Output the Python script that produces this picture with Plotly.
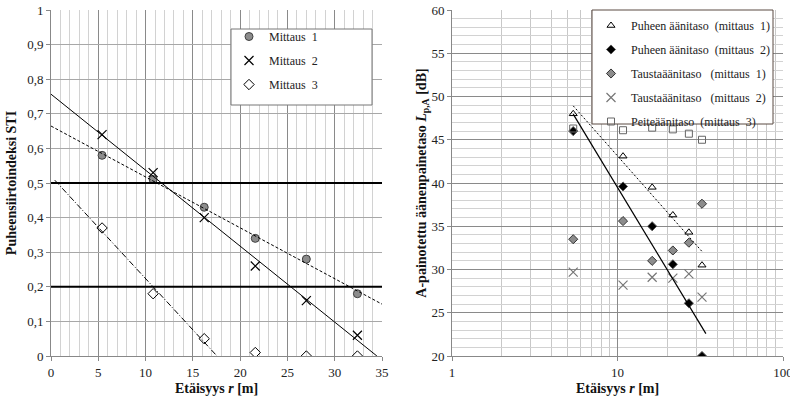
import numpy as np
import plotly.graph_objects as go

# ---------------- data ----------------
distance = [5.4, 10.8, 16.2, 21.6, 27.0, 32.4]

sti_mittaus1 = [0.58, 0.51, 0.43, 0.34, 0.28, 0.18]
sti_mittaus2 = [0.64, 0.53, 0.40, 0.26, 0.16, 0.06]
sti_mittaus3 = [0.37, 0.18, 0.05, 0.01, 0.00, 0.00]
sti_limits = [0.5, 0.2]

puhe_m1 = [48.0, 43.1, 39.5, 36.3, 34.3, 30.5]
puhe_m2 = [46.0, 39.6, 35.0, 30.6, 26.1, 20.0]
tausta_m1 = [33.5, 35.6, 31.0, 32.2, 33.1, 37.6]
tausta_m2 = [29.7, 28.2, 29.1, 29.0, 29.5, 26.8]
peite_m3 = [46.3, 46.1, 46.4, 46.2, 45.7, 45.0]

left_names = ["Mittaus  1", "Mittaus  2", "Mittaus  3"]
right_names = ["Puheen äänitaso  (mittaus  1)", "Puheen äänitaso  (mittaus  2)",
               "Taustaäänitaso   (mittaus  1)", "Taustaäänitaso   (mittaus  2)",
               "Peiteäänitaso  (mittaus  3)"]

FONT = "Liberation Serif"
nb = lambda s: s.replace(" ", "\u00a0")

fig = go.Figure()

# ---------------- left chart ----------------
fig.add_trace(go.Scatter(x=distance, y=sti_mittaus1, mode="markers", name=nb(left_names[0]),
                         marker=dict(symbol="circle", size=8, color="#8c8c8c", line=dict(color="#404040", width=1)),
                         xaxis="x", yaxis="y", legend="legend", legendgroup="a"))
fig.add_trace(go.Scatter(x=distance, y=sti_mittaus2, mode="markers", name=nb(left_names[1]),
                         marker=dict(symbol="x-thin-open", size=9, color="#000", line=dict(color="#000", width=1.2)),
                         xaxis="x", yaxis="y", legend="legend", legendgroup="b"))
fig.add_trace(go.Scatter(x=distance, y=sti_mittaus3, mode="markers", name=nb(left_names[2]),
                         marker=dict(symbol="diamond-open", size=8, color="#000", line=dict(color="#000", width=1)),
                         xaxis="x", yaxis="y", legend="legend", legendgroup="c"))

# linear trendlines
d = np.array(distance)
k1, b1 = np.polyfit(d, sti_mittaus1, 1)
xs1 = np.array([0, 35])
fig.add_trace(go.Scatter(x=xs1, y=k1 * xs1 + b1, mode="lines", showlegend=False,
                         line=dict(color="#000", width=1, dash="3px,2px"), xaxis="x", yaxis="y"))
k2, b2 = np.polyfit(d, sti_mittaus2, 1)
xs2 = np.array([0, -b2 / k2])
fig.add_trace(go.Scatter(x=xs2, y=k2 * xs2 + b2, mode="lines", showlegend=False,
                         line=dict(color="#000", width=1), xaxis="x", yaxis="y"))
k3, b3 = np.polyfit(d[:3], sti_mittaus3[:3], 1)
xs3 = np.array([0.4, -b3 / k3])
fig.add_trace(go.Scatter(x=xs3, y=k3 * xs3 + b3, mode="lines", showlegend=False,
                         line=dict(color="#000", width=1, dash="6px,2px,1px,2px"), xaxis="x", yaxis="y"))

# ---------------- right chart ----------------
fig.add_trace(go.Scatter(x=distance, y=puhe_m1, mode="markers", name=nb(right_names[0]),
                         marker=dict(symbol="triangle-up-open", size=7, color="#000", line=dict(width=1)),
                         xaxis="x2", yaxis="y2", legend="legend2", legendgroup="r1"))
fig.add_trace(go.Scatter(x=distance, y=puhe_m2, mode="markers", name=nb(right_names[1]),
                         marker=dict(symbol="diamond", size=7, color="#000", line=dict(color="#555", width=1)),
                         xaxis="x2", yaxis="y2", legend="legend2", legendgroup="r2"))
fig.add_trace(go.Scatter(x=distance, y=tausta_m1, mode="markers", name=nb(right_names[2]),
                         marker=dict(symbol="diamond", size=7, color="#8c8c8c", line=dict(color="#333", width=1)),
                         xaxis="x2", yaxis="y2", legend="legend2", legendgroup="r3"))
fig.add_trace(go.Scatter(x=distance, y=tausta_m2, mode="markers", name=nb(right_names[3]),
                         marker=dict(symbol="x-thin-open", size=9, color="#777", line=dict(color="#777", width=1.2)),
                         xaxis="x2", yaxis="y2", legend="legend2", legendgroup="r4"))
fig.add_trace(go.Scatter(x=distance, y=peite_m3, mode="markers", name=nb(right_names[4]),
                         marker=dict(symbol="square-open", size=7, color="#666", line=dict(color="#666", width=1)),
                         xaxis="x2", yaxis="y2", legend="legend2", legendgroup="r5"))

# logarithmic trendlines
lnd = np.log(d)
a1, c1 = np.polyfit(lnd, puhe_m1, 1)
xr1 = np.linspace(d[0], d[-1], 40)
fig.add_trace(go.Scatter(x=xr1, y=a1 * np.log(xr1) + c1, mode="lines", showlegend=False,
                         line=dict(color="#000", width=1, dash="2px,2px"), xaxis="x2", yaxis="y2"))
a2, c2 = np.polyfit(lnd, puhe_m2, 1)
xr2 = np.linspace(d[0], 34.2, 40)
fig.add_trace(go.Scatter(x=xr2, y=a2 * np.log(xr2) + c2, mode="lines", showlegend=False,
                         line=dict(color="#000", width=1.2), xaxis="x2", yaxis="y2"))

W, H = 790, 398
px = lambda v: v / W
py = lambda v: 1 - v / H

tickfont = dict(family=FONT, size=13, color="#222")
titlefont = dict(family=FONT, size=14, color="#111", weight="bold")

shapes = []
for v in sti_limits:
    shapes.append(dict(type="line", xref="x domain", yref="y", x0=0, x1=1, y0=v, y1=v,
                       line=dict(color="#000", width=2), layer="above"))
# legend boxes
shapes.append(dict(type="rect", xref="paper", yref="paper", x0=px(231), x1=px(372), y0=py(105), y1=py(29),
                   fillcolor="#fff", line=dict(color="#777", width=1), layer="above"))
shapes.append(dict(type="rect", xref="paper", yref="paper", x0=px(592), x1=px(773), y0=py(124), y1=py(10),
                   fillcolor="#fff", line=dict(color="#5a4a42", width=1), layer="above"))

fig.update_layout(
    width=W, height=H,
    margin=dict(l=0, r=0, t=0, b=0),
    paper_bgcolor="#fff", plot_bgcolor="#fff",
    separators=", ",
    font=dict(family=FONT, color="#222"),
    shapes=shapes,
    xaxis=dict(domain=[px(51), px(382)], range=[0, 35], dtick=5, tick0=0,
               showgrid=True, gridcolor="#8a8a8a", gridwidth=1,
               minor=dict(dtick=1, showgrid=True, gridcolor="#d2d2d2", gridwidth=1, ticks=""),
               showline=True, linecolor="#888", ticks="outside", ticklen=4, tickcolor="#888",
               tickfont=tickfont, zeroline=False, anchor="y", automargin=False,
               ticklabeloverflow="allow",
               title=dict(text="Etäisyys <i>r</i> [m]", font=titlefont, standoff=4)),
    yaxis=dict(domain=[py(356), py(10)], range=[0, 1], dtick=0.1,
               showgrid=True, gridcolor="#a8a8a8", gridwidth=1,
               showline=True, linecolor="#888", ticks="outside", ticklen=4, tickcolor="#888",
               tickfont=tickfont, zeroline=False, anchor="x", automargin=False,
               ticklabeloverflow="allow",
               title=dict(text="Puheensiirtoindeksi STI", font=titlefont, standoff=7)),
    xaxis2=dict(domain=[px(452), px(783)], type="log", range=[0, 2], dtick=1,
                showgrid=True, gridcolor="#8a8a8a", gridwidth=1,
                minor=dict(dtick="D1", showgrid=True, gridcolor="#c8c8c8", gridwidth=1, ticks=""),
                showline=True, linecolor="#888", ticks="outside", ticklen=4, tickcolor="#888",
                tickfont=tickfont, zeroline=False, anchor="y2", automargin=False,
                ticklabeloverflow="allow",
                title=dict(text="Etäisyys <i>r</i> [m]", font=titlefont, standoff=4)),
    yaxis2=dict(domain=[py(356), py(10)], range=[20, 60], dtick=5,
                showgrid=True, gridcolor="#8a8a8a", gridwidth=1,
                minor=dict(dtick=1, showgrid=True, gridcolor="#d2d2d2", gridwidth=1, ticks=""),
                showline=True, linecolor="#888", ticks="outside", ticklen=4, tickcolor="#888",
                tickfont=tickfont, zeroline=False, anchor="x2", automargin=False,
                ticklabeloverflow="allow",
                title=dict(text="A-painotettu äänenpainetaso <i>L</i><sub>p,A</sub> [dB]",
                           font=titlefont, standoff=1)),
    legend=dict(x=px(229), y=py(22), xanchor="left", yanchor="top", bgcolor="rgba(0,0,0,0)",
                borderwidth=0, font=dict(family=FONT, size=12, color="#222"),
                traceorder="grouped", tracegroupgap=5, itemwidth=30),
    legend2=dict(x=px(591), y=py(11), xanchor="left", yanchor="top", bgcolor="rgba(0,0,0,0)",
                 borderwidth=0, font=dict(family=FONT, size=12, color="#222"),
                 traceorder="grouped", tracegroupgap=5, itemwidth=30),
)

fig.write_html("out.html", config={"displayModeBar": False},
               post_script="document.body.style.margin='0px';")
